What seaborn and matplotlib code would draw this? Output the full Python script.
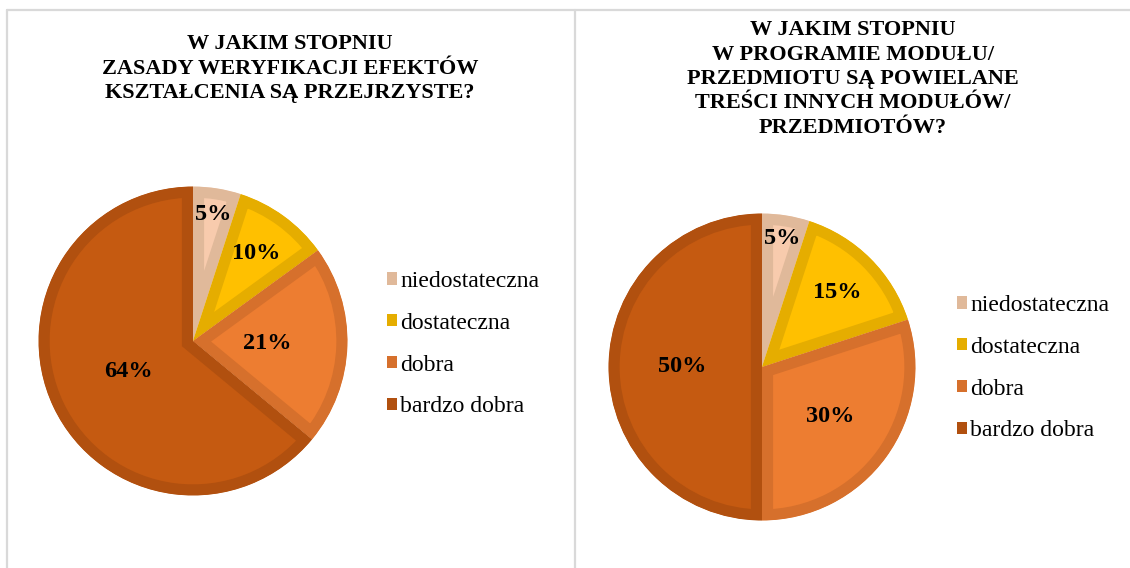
import numpy as np
import seaborn as sns
import matplotlib.pyplot as plt
from matplotlib.patches import Patch
from matplotlib.lines import Line2D

# Data
categories = ["niedostateczna", "dostateczna", "dobra", "bardzo dobra"]
values_left = [5, 10, 21, 64]
values_right = [5, 15, 30, 50]
title_left = "W JAKIM STOPNIU\nZASADY WERYFIKACJI EFEKTÓW\nKSZTAŁCENIA SĄ PRZEJRZYSTE?"
title_right = ("W JAKIM STOPNIU\nW PROGRAMIE MODUŁU/\nPRZEDMIOTU SĄ POWIELANE\n"
               "TREŚCI INNYCH MODUŁÓW/\nPRZEDMIOTÓW?")

fills = ["#F8CBAD", "#FFC000", "#ED7D31", "#C55A11"]
edges = ["#E0B99A", "#E5AD00", "#D6702C", "#B1500F"]

sns.set_theme(style="white")
plt.rcParams["font.family"] = ["Liberation Serif", "DejaVu Serif"]
plt.rcParams["text.color"] = "black"

W, H = 1130, 568
fig = plt.figure(figsize=(W / 100, H / 100), dpi=100)


def draw_pie(cx, cy, r, values, label_dist, legend_xy):
    ax = fig.add_axes([(cx - r) / W, (H - cy - r) / H, 2 * r / W, 2 * r / H])
    wedges, _ = ax.pie(values, colors=fills, startangle=90, counterclock=False,
                       wedgeprops=dict(linewidth=16, edgecolor="none"))
    # inner border: stroke twice as wide, clipped to the wedge itself
    for w, ec in zip(wedges, edges):
        w.set_edgecolor(ec)
        w.set_clip_on(True)
        w.set_clip_path(w)
    for w, v, d in zip(wedges, values, label_dist):
        ang = np.deg2rad((w.theta1 + w.theta2) / 2)
        x = w.center[0] + d * np.cos(ang)
        y = w.center[1] + d * np.sin(ang)
        ax.text(x, y, f"{v}%", ha="center", va="center",
                fontsize=17.5, fontweight="bold", color="black")
    ax.set_xlim(-1.01, 1.01)
    ax.set_ylim(-1.01, 1.01)
    handles = [Patch(facecolor=c, edgecolor="none") for c in edges]
    fig.legend(handles, categories, loc="upper left",
               bbox_to_anchor=(legend_xy[0] / W, 1 - legend_xy[1] / H),
               frameon=False, fontsize=17, labelspacing=0.88,
               handlelength=0.42, handleheight=0.42, handletextpad=0.15,
               borderaxespad=0, borderpad=0)


draw_pie(193, 341, 156, values_left, [0.83, 0.70, 0.48, 0.46], (387, 271))
draw_pie(762, 367, 155, values_right, [0.85, 0.69, 0.55, 0.52], (957, 295))

fig.text(290 / W, 1 - 34 / H, title_left, ha="center", va="top",
         fontsize=16, fontweight="bold", linespacing=1.3)
fig.text(853 / W, 1 - 20 / H, title_right, ha="center", va="top",
         fontsize=16, fontweight="bold", linespacing=1.3)

# panel borders
grey = "#D9D9D9"
fig.add_artist(Line2D([7 / W, 1], [1 - 10 / H] * 2, color=grey, lw=1.6))
fig.add_artist(Line2D([7 / W] * 2, [0, 1 - 10 / H], color=grey, lw=1.6))
fig.add_artist(Line2D([575 / W] * 2, [0, 1 - 10 / H], color=grey, lw=1.6))

fig.savefig("out.png", dpi=100)
